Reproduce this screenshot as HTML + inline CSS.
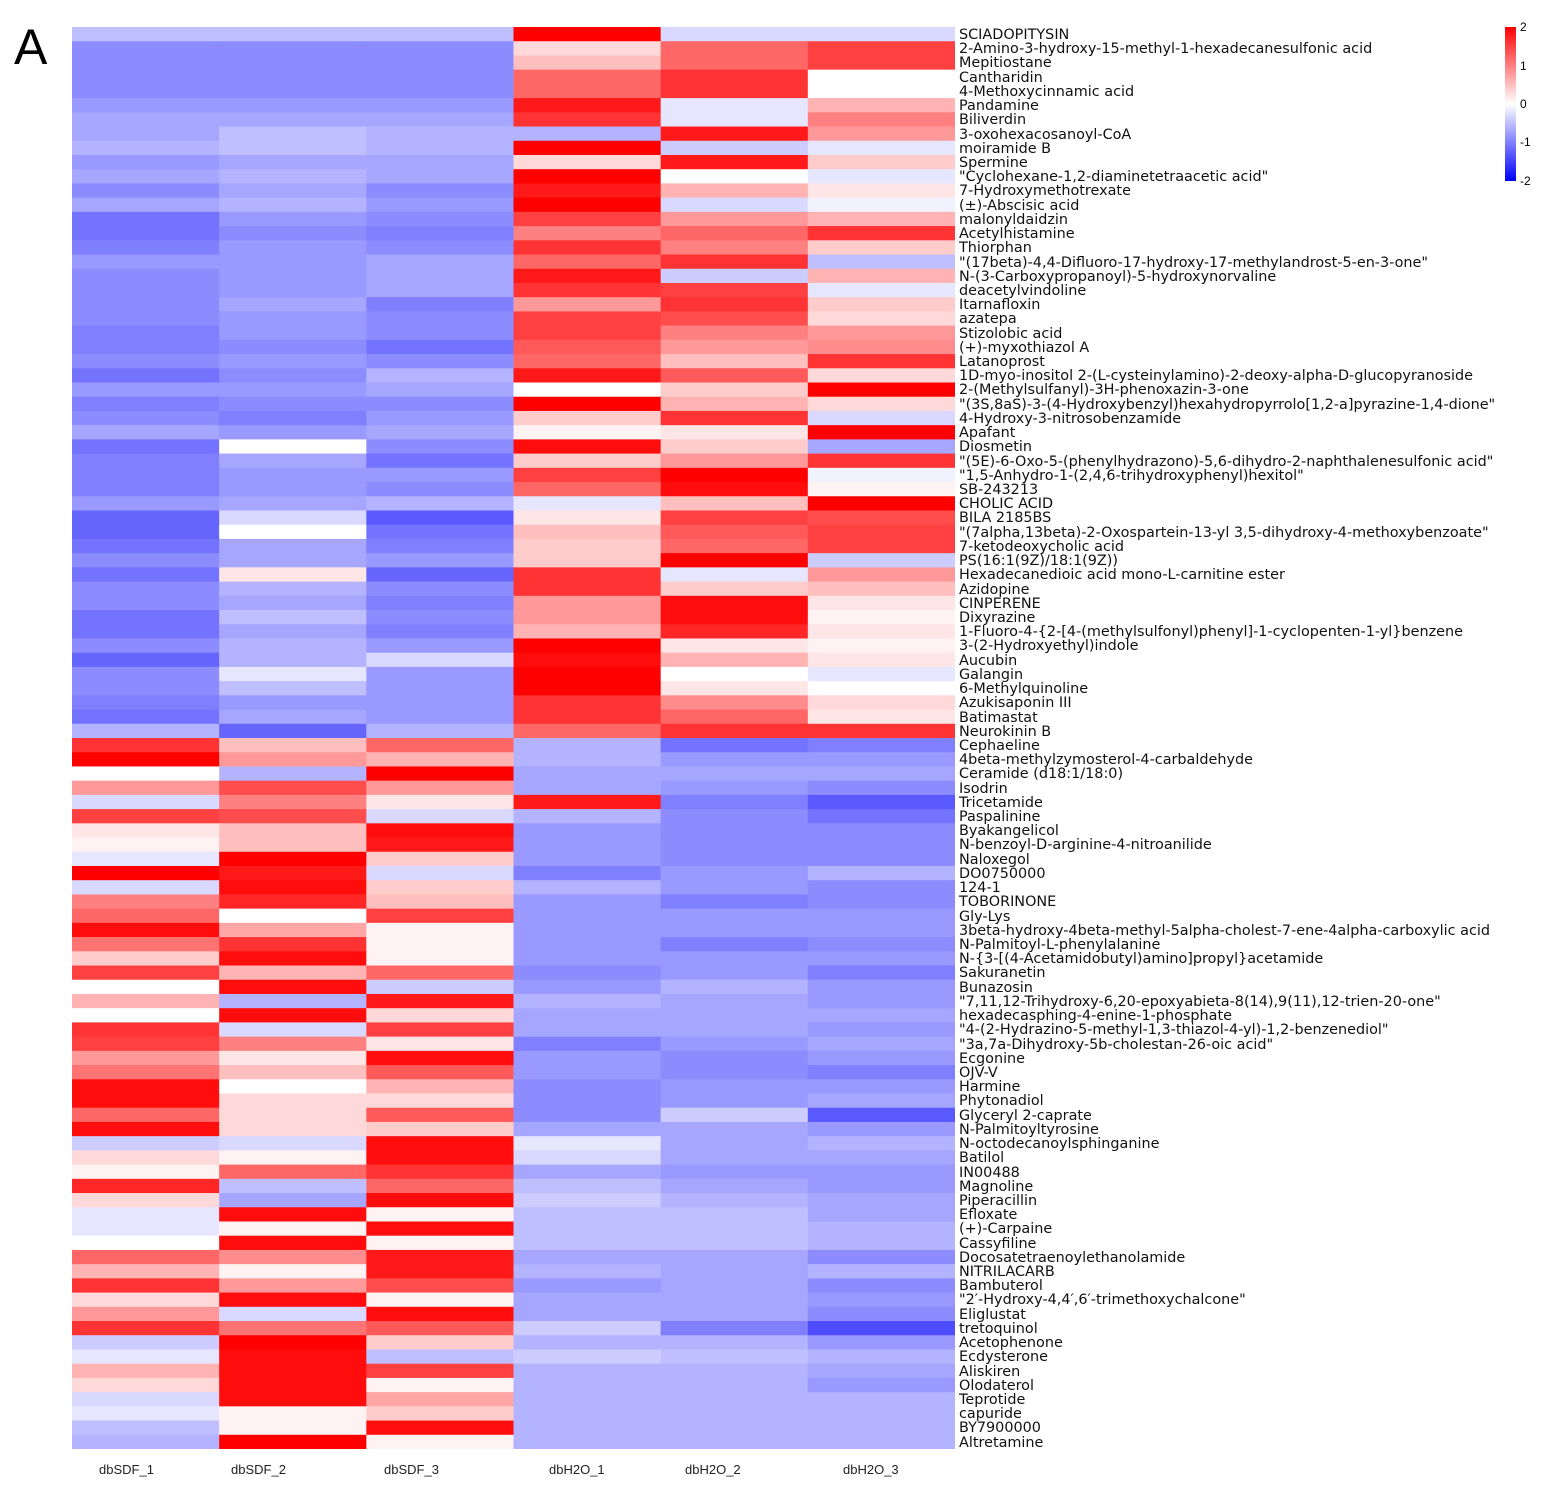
<!DOCTYPE html>
<html><head><meta charset="utf-8">
<style>
body{margin:0;background:#fff;width:1546px;height:1493px;position:relative;overflow:hidden;font-family:"DejaVu Sans","Liberation Sans",sans-serif;}
#hm{position:absolute;left:72px;top:27px;}
#labels{position:absolute;left:959px;top:28px;font-size:14.4px;color:#111;}
#labels div{height:14.22px;line-height:14.22px;white-space:nowrap;}
.cl{position:absolute;top:1462px;font-family:"Liberation Sans",sans-serif;font-size:13px;color:#222;}
#A{position:absolute;left:14px;top:18px;font-family:"Liberation Sans",sans-serif;font-size:50px;}
#cb{position:absolute;left:1505px;top:27px;width:11px;height:154px;background:linear-gradient(#ff0000,#ffffff 50%,#0000ff);}
.ct{position:absolute;left:1520px;font-size:12px;font-family:"Liberation Sans",sans-serif;}
</style></head><body>
<div id="A">A</div>
<svg id="hm" width="883" height="1422"></svg>
<div id="labels">
<div>SCIADOPITYSIN</div><div>2-Amino-3-hydroxy-15-methyl-1-hexadecanesulfonic acid</div><div>Mepitiostane</div><div>Cantharidin</div><div>4-Methoxycinnamic acid</div><div>Pandamine</div><div>Biliverdin</div><div>3-oxohexacosanoyl-CoA</div><div>moiramide B</div><div>Spermine</div><div>"Cyclohexane-1,2-diaminetetraacetic acid"</div><div>7-Hydroxymethotrexate</div><div>(±)-Abscisic acid</div><div>malonyldaidzin</div><div>Acetylhistamine</div><div>Thiorphan</div><div>"(17beta)-4,4-Difluoro-17-hydroxy-17-methylandrost-5-en-3-one"</div><div>N-(3-Carboxypropanoyl)-5-hydroxynorvaline</div><div>deacetylvindoline</div><div>Itarnafloxin</div><div>azatepa</div><div>Stizolobic acid</div><div>(+)-myxothiazol A</div><div>Latanoprost</div><div>1D-myo-inositol 2-(L-cysteinylamino)-2-deoxy-alpha-D-glucopyranoside</div><div>2-(Methylsulfanyl)-3H-phenoxazin-3-one</div><div>"(3S,8aS)-3-(4-Hydroxybenzyl)hexahydropyrrolo[1,2-a]pyrazine-1,4-dione"</div><div>4-Hydroxy-3-nitrosobenzamide</div><div>Apafant</div><div>Diosmetin</div><div>"(5E)-6-Oxo-5-(phenylhydrazono)-5,6-dihydro-2-naphthalenesulfonic acid"</div><div>"1,5-Anhydro-1-(2,4,6-trihydroxyphenyl)hexitol"</div><div>SB-243213</div><div>CHOLIC ACID</div><div>BILA 2185BS</div><div>"(7alpha,13beta)-2-Oxospartein-13-yl 3,5-dihydroxy-4-methoxybenzoate"</div><div>7-ketodeoxycholic acid</div><div>PS(16:1(9Z)/18:1(9Z))</div><div>Hexadecanedioic acid mono-L-carnitine ester</div><div>Azidopine</div><div>CINPERENE</div><div>Dixyrazine</div><div>1-Fluoro-4-{2-[4-(methylsulfonyl)phenyl]-1-cyclopenten-1-yl}benzene</div><div>3-(2-Hydroxyethyl)indole</div><div>Aucubin</div><div>Galangin</div><div>6-Methylquinoline</div><div>Azukisaponin III</div><div>Batimastat</div><div>Neurokinin B</div><div>Cephaeline</div><div>4beta-methylzymosterol-4-carbaldehyde</div><div>Ceramide (d18:1/18:0)</div><div>Isodrin</div><div>Tricetamide</div><div>Paspalinine</div><div>Byakangelicol</div><div>N-benzoyl-D-arginine-4-nitroanilide</div><div>Naloxegol</div><div>DO0750000</div><div>124-1</div><div>TOBORINONE</div><div>Gly-Lys</div><div>3beta-hydroxy-4beta-methyl-5alpha-cholest-7-ene-4alpha-carboxylic acid</div><div>N-Palmitoyl-L-phenylalanine</div><div>N-{3-[(4-Acetamidobutyl)amino]propyl}acetamide</div><div>Sakuranetin</div><div>Bunazosin</div><div>"7,11,12-Trihydroxy-6,20-epoxyabieta-8(14),9(11),12-trien-20-one"</div><div>hexadecasphing-4-enine-1-phosphate</div><div>"4-(2-Hydrazino-5-methyl-1,3-thiazol-4-yl)-1,2-benzenediol"</div><div>"3a,7a-Dihydroxy-5b-cholestan-26-oic acid"</div><div>Ecgonine</div><div>OJV-V</div><div>Harmine</div><div>Phytonadiol</div><div>Glyceryl 2-caprate</div><div>N-Palmitoyltyrosine</div><div>N-octodecanoylsphinganine</div><div>Batilol</div><div>IN00488</div><div>Magnoline</div><div>Piperacillin</div><div>Efloxate</div><div>(+)-Carpaine</div><div>Cassyfiline</div><div>Docosatetraenoylethanolamide</div><div>NITRILACARB</div><div>Bambuterol</div><div>"2′-Hydroxy-4,4′,6′-trimethoxychalcone"</div><div>Eliglustat</div><div>tretoquinol</div><div>Acetophenone</div><div>Ecdysterone</div><div>Aliskiren</div><div>Olodaterol</div><div>Teprotide</div><div>capuride</div><div>BY7900000</div><div>Altretamine</div>
</div>
<div class="cl" style="left:99px">dbSDF_1</div>
<div class="cl" style="left:231px">dbSDF_2</div>
<div class="cl" style="left:384px">dbSDF_3</div>
<div class="cl" style="left:549px">dbH2O_1</div>
<div class="cl" style="left:685px">dbH2O_2</div>
<div class="cl" style="left:843px">dbH2O_3</div>
<div id="cb"></div>
<div class="ct" style="top:20px">2</div>
<div class="ct" style="top:59px">1</div>
<div class="ct" style="top:97px">0</div>
<div class="ct" style="top:135px">-1</div>
<div class="ct" style="top:174px">-2</div>
<script>
var d=[
[-0.5,-0.5,-0.5,2,-0.3,-0.3],[-0.9,-0.9,-0.9,0.3,1.2,1.5],[-0.9,-0.9,-0.9,0.5,1.2,1.5],[-0.9,-0.9,-0.9,1.2,1.6,0],[-0.9,-0.9,-0.9,1.2,1.6,0],
[-0.8,-0.8,-0.8,1.8,-0.2,0.6],[-0.7,-0.7,-0.7,1.6,-0.2,1.0],[-0.7,-0.5,-0.6,-0.6,1.8,0.8],[-0.6,-0.5,-0.6,2,-0.4,-0.2],[-0.8,-0.7,-0.7,0.3,1.8,0.4],
[-0.7,-0.6,-0.7,2,0,-0.2],[-0.9,-0.7,-0.9,1.8,0.6,0.2],[-0.7,-0.6,-0.8,2,-0.3,-0.1],[-1.1,-0.8,-0.9,1.5,0.8,0.6],[-1.1,-0.9,-1.0,1.0,1.2,1.6],
[-1.0,-0.8,-0.9,1.6,1.0,0.4],[-0.8,-0.8,-0.7,1.2,1.6,-0.5],[-0.9,-0.8,-0.7,1.8,-0.4,0.6],[-0.9,-0.8,-0.7,1.6,1.5,-0.2],[-0.9,-0.7,-1.0,0.8,1.6,0.4],
[-0.9,-0.8,-0.9,1.5,1.4,0.3],[-1.0,-0.8,-0.9,1.5,1.0,0.8],[-1.0,-0.9,-1.1,1.3,0.8,0.9],[-0.9,-0.8,-0.9,1.2,0.5,1.6],[-1.1,-0.9,-0.6,1.8,1.3,0.3],
[-0.8,-0.8,-0.7,0,0.4,2],[-1.0,-0.9,-0.9,2,0.6,0.3],[-0.9,-1.0,-0.8,0.4,1.6,-0.3],[-0.7,-0.8,-0.7,0.1,0.2,2],[-1.1,0,-0.9,1.9,0.4,-0.7],
[-1.0,-0.7,-1.1,0.4,0.8,1.6],[-1.0,-0.8,-0.8,1.5,2,-0.1],[-1.0,-0.8,-0.9,1.2,1.9,0.1],[-0.8,-0.7,-0.6,-0.2,0.5,2],[-1.2,-0.3,-1.3,0.2,1.5,1.4],
[-1.2,0,-1.1,0.5,1.3,1.5],[-1.1,-0.7,-1.0,0.4,1.2,1.5],[-0.9,-0.7,-0.8,0.4,2,-0.4],[-1.1,0.2,-1.2,1.6,-0.2,0.8],[-0.9,-0.6,-0.9,1.6,0.4,0.5],
[-0.9,-0.7,-1.0,0.8,1.9,0.2],[-1.1,-0.5,-0.9,0.8,1.9,0.1],[-1.1,-0.7,-1.0,0.6,1.7,0.2],[-0.9,-0.6,-0.8,2,0.2,0.1],[-1.2,-0.6,-0.3,1.9,0.6,0.2],
[-0.9,-0.2,-0.8,2,0,-0.2],[-0.9,-0.5,-0.8,2,0.2,0],[-1.0,-0.8,-0.8,1.6,0.9,0.3],[-1.1,-0.7,-0.8,1.6,1.2,0.2],[-0.6,-1.2,-0.6,1.2,1.6,1.6],
[1.6,0.5,1.2,-0.6,-1.1,-1.0],[2,0.8,0.6,-0.6,-0.8,-0.8],[0,-0.6,2,-0.7,-0.7,-0.7],[0.8,1.4,0.8,-0.7,-0.8,-0.9],[-0.3,1.0,0.2,1.8,-1.0,-1.3],
[1.5,1.4,-0.3,-0.6,-0.9,-1.1],[0.2,0.5,1.9,-0.8,-0.9,-0.9],[0.1,0.5,1.8,-0.8,-0.9,-0.9],[-0.2,2,0.4,-0.8,-0.9,-0.9],[2,1.8,-0.3,-1.0,-0.8,-0.6],
[-0.3,1.9,0.4,-0.6,-0.8,-0.9],[1.0,1.7,0.5,-0.8,-1.0,-0.9],[1.2,0,1.5,-0.8,-0.8,-0.8],[1.9,0.7,0.1,-0.8,-0.8,-0.8],[1.1,1.6,0.1,-0.8,-1.0,-0.9],
[0.4,1.9,0.1,-0.8,-0.8,-0.8],[1.5,0.6,1.2,-0.9,-0.8,-1.0],[0,1.9,-0.4,-0.8,-0.6,-0.8],[0.6,-0.6,1.8,-0.6,-0.7,-0.8],[0,1.9,0.3,-0.7,-0.7,-0.7],
[1.6,-0.3,1.5,-0.7,-0.7,-0.8],[1.5,1.0,0.2,-1.0,-0.8,-0.7],[0.8,0.2,1.9,-0.8,-0.9,-0.8],[1.1,0.5,1.3,-0.8,-0.9,-1.0],[1.9,0,0.6,-0.9,-0.8,-0.8],
[1.9,0.3,0.3,-0.9,-0.8,-0.7],[1.2,0.3,1.3,-0.9,-0.4,-1.3],[1.9,0.3,0.4,-0.7,-0.7,-0.8],[-0.4,-0.3,1.9,-0.2,-0.7,-0.6],[0.3,0.1,1.9,-0.3,-0.7,-0.7],
[0.1,1.2,1.6,-0.7,-0.8,-0.8],[1.7,-0.5,1.2,-0.5,-0.7,-0.8],[0.3,-0.7,1.9,-0.4,-0.6,-0.7],[-0.2,1.9,0.1,-0.5,-0.5,-0.7],[-0.2,0.1,1.9,-0.5,-0.5,-0.6],
[0.0,1.9,0.1,-0.5,-0.5,-0.6],[1.2,0.9,1.8,-0.7,-0.7,-0.9],[0.6,0.1,1.8,-0.6,-0.7,-0.6],[1.6,0.8,1.4,-0.8,-0.7,-0.9],[0.3,1.9,0.1,-0.7,-0.7,-0.8],
[0.8,-0.3,1.9,-0.7,-0.7,-0.9],[1.6,1.1,1.3,-0.4,-1.0,-1.4],[-0.4,2,0.4,-0.6,-0.6,-0.8],[-0.2,1.9,-0.5,-0.4,-0.5,-0.6],[0.6,1.9,1.5,-0.6,-0.6,-0.7],
[0.3,1.9,0.1,-0.6,-0.6,-0.8],[-0.3,1.9,0.7,-0.6,-0.6,-0.6],[-0.2,0.1,0.4,-0.6,-0.6,-0.6],[-0.5,0.1,1.9,-0.6,-0.6,-0.6],[-0.6,2,0.1,-0.6,-0.6,-0.6]];
function col(v){v=Math.max(-2,Math.min(2,v));var t=Math.abs(v)/2,c=Math.round(255*(1-t));
return v>=0?'rgb(255,'+c+','+c+')':'rgb('+c+','+c+',255)';}
var s='',rh=1422/100,cw=883/6;
for(var i=0;i<100;i++)for(var j=0;j<6;j++){
s+='<rect x="'+(j*cw).toFixed(2)+'" y="'+(i*rh).toFixed(2)+'" width="'+(cw+0.6).toFixed(2)+'" height="'+(rh+0.6).toFixed(2)+'" fill="'+col(d[i][j])+'"/>';}
document.getElementById('hm').innerHTML=s;
</script>
</body></html>
